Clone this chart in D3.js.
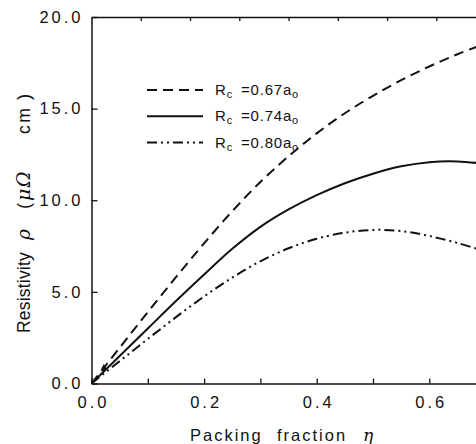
<!DOCTYPE html>
<html>
<head>
<meta charset="utf-8">
<script src="https://cdn.jsdelivr.net/npm/d3@7"></script>
<style>
  body { margin: 0; background: #fff; }
  svg { display: block; }
  text { font-family: "Liberation Sans", Arial, sans-serif; fill: #111; }
</style>
</head>
<body>
<svg width="476" height="444"></svg>
<script>
(() => {
  // packing fraction grid and resistivity curves
  const eta = [0, 0.05, 0.10, 0.15, 0.20, 0.25, 0.30, 0.35, 0.40, 0.45, 0.50, 0.55, 0.60, 0.65, 0.70];
  const rhoRc067 = [0, 1.95, 3.9, 5.8, 7.65, 9.4, 11.0, 12.4, 13.65, 14.75, 15.7, 16.55, 17.3, 17.97, 18.55];
  const rhoRc074 = [0, 1.5, 3.0, 4.5, 5.95, 7.35, 8.55, 9.5, 10.28, 10.93, 11.45, 11.85, 12.08, 12.12, 11.98];
  const rhoRc080 = [0, 1.22, 2.43, 3.62, 4.75, 5.78, 6.67, 7.38, 7.9, 8.23, 8.38, 8.32, 8.05, 7.67, 7.2];

  const seriesNames = ["0.67", "0.74", "0.80"];
  const expPoint = [{eta: 0.022, rho: 0.82}];

  const xTicks = [0, 0.1, 0.2, 0.3, 0.4, 0.5, 0.6, 0.7];
  const xLabelled = [0, 0.2, 0.4, 0.6];
  const yTicks = [0, 5, 10, 15, 20];
  const topTicks = [0.0875, 0.175, 0.2625, 0.35, 0.4375, 0.525, 0.6125, 0.7];

  const svg = d3.select("svg");
  const left = 91.5, top = 17, bottom = 383.5;
  const pxPerUnit = 563;

  const x = d3.scaleLinear().domain([0, 0.8]).range([left, left + 0.8 * pxPerUnit]);
  const y = d3.scaleLinear().domain([0, 20]).range([bottom, top]);

  const dashes = {
    "0.67": "10,6",
    "0.74": null,
    "0.80": "10,4,2,4,2,4"
  };
  const seriesData = {
    "0.67": rhoRc067,
    "0.74": rhoRc074,
    "0.80": rhoRc080
  };

  svg.append("clipPath").attr("id", "plot")
    .append("rect")
    .attr("x", left).attr("y", top)
    .attr("width", 0.8 * pxPerUnit).attr("height", bottom - top);

  // axes
  const xAxis = svg.append("g")
      .attr("transform", "translate(0," + bottom + ")")
      .call(d3.axisBottom(x)
        .tickValues(xTicks)
        .tickSize(-5)
        .tickSizeOuter(0)
        .tickPadding(13)
        .tickFormat(d => xLabelled.some(v => Math.abs(v - d) < 1e-9) ? d3.format(".1f")(d) : ""));

  const yAxis = svg.append("g")
      .attr("transform", "translate(" + left + ",0)")
      .call(d3.axisLeft(y)
        .tickValues(yTicks)
        .tickSize(-6)
        .tickSizeOuter(0)
        .tickPadding(8)
        .tickFormat(d3.format(".1f")));

  const topAxis = svg.append("g")
      .attr("transform", "translate(0," + top + ")")
      .call(d3.axisTop(x)
        .tickValues(topTicks)
        .tickSize(-4)
        .tickSizeOuter(0)
        .tickFormat(""));

  [xAxis, yAxis, topAxis].forEach(a => {
    a.select(".domain").attr("stroke", "#111").attr("stroke-width", 1.5);
    a.selectAll(".tick line").attr("stroke", "#111").attr("stroke-width", 1.3);
    a.selectAll(".tick text")
      .attr("font-family", "'Liberation Sans', Arial, sans-serif")
      .attr("font-size", 16.5)
      .attr("letter-spacing", "3px")
      .attr("fill", "#111");
  });
  xAxis.selectAll(".tick text").attr("dx", "1.5px");

  // curves
  const line = d3.line()
      .x(d => x(d[0]))
      .y(d => y(d[1]))
      .curve(d3.curveCatmullRom);

  const plot = svg.append("g").attr("clip-path", "url(#plot)");

  seriesNames.forEach(name => {
    const pts = eta.map((e, i) => [e, seriesData[name][i]]);
    plot.append("path")
      .datum(pts)
      .attr("fill", "none")
      .attr("stroke", "#111")
      .attr("stroke-width", 2)
      .attr("stroke-dasharray", dashes[name])
      .attr("d", line);
  });

  plot.selectAll(".exp")
    .data(expPoint)
    .enter().append("path")
      .attr("class", "exp")
      .attr("transform", d => "translate(" + x(d.eta) + "," + y(d.rho) + ")")
      .attr("d", d3.symbol().type(d3.symbolDiamond).size(22))
      .attr("fill", "#111");

  // legend
  const legend = svg.append("g")
    .selectAll("g")
    .data(seriesNames)
    .enter().append("g")
      .attr("transform", (d, i) => "translate(0," + (90 + i * 26.3) + ")");

  legend.append("line")
      .attr("x1", 147).attr("x2", 203)
      .attr("y1", 0).attr("y2", 0)
      .attr("stroke", "#111")
      .attr("stroke-width", 2)
      .attr("stroke-dasharray", d => dashes[d]);

  const lt = legend.append("text")
      .attr("x", 215)
      .attr("y", 5)
      .attr("font-size", 15)
      .attr("letter-spacing", "0.8px");
  lt.append("tspan").text("R");
  lt.append("tspan").attr("font-size", 11).attr("dy", 3).text("c");
  lt.append("tspan").attr("x", 241).attr("dy", -3).text(d => "=" + d + "a");
  lt.append("tspan").attr("font-size", 11).attr("dy", 3).text("o");

  // axis titles
  const xt = svg.append("text")
      .attr("y", 441)
      .attr("font-size", 16.5)
      .attr("letter-spacing", "2px");
  xt.append("tspan").attr("x", 190).text("Packing");
  xt.append("tspan").attr("x", 277).text("fraction");
  xt.append("tspan").attr("x", 363)
      .attr("font-family", "'DejaVu Serif', serif")
      .attr("font-style", "italic")
      .attr("font-size", 17)
      .text("\u03b7");

  const yt = svg.append("text")
      .attr("transform", "translate(30,333) rotate(-90)")
      .attr("font-size", 17.5)
      .attr("letter-spacing", "0.2px");
  yt.append("tspan").attr("x", 0).text("Resistivity");
  yt.append("tspan").attr("x", 93)
      .attr("font-family", "'DejaVu Serif', serif")
      .attr("font-style", "italic")
      .attr("font-size", 18.5)
      .text("\u03c1");
  yt.append("tspan").attr("x", 124).attr("font-size", 18.5).text("(");
  yt.append("tspan").attr("x", 132)
      .attr("font-family", "'DejaVu Serif', serif")
      .attr("font-style", "italic")
      .attr("font-size", 19)
      .attr("letter-spacing", "1.5px")
      .text("\u03bc\u03a9");
  yt.append("tspan").attr("x", 199).attr("letter-spacing", "2.5px").text("cm");
  yt.append("tspan").attr("x", 233).attr("font-size", 18.5).text(")");
})();
</script>
</body>
</html>
